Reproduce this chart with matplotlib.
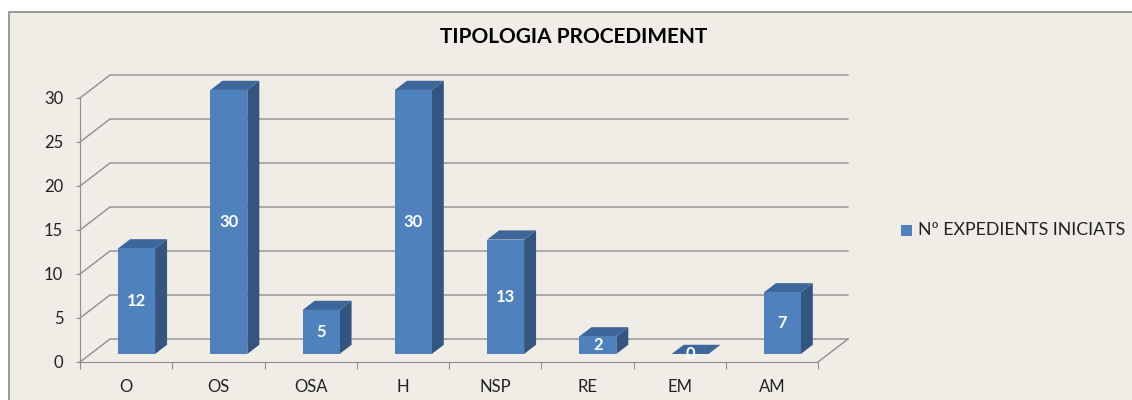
import matplotlib.pyplot as plt
from matplotlib.patches import Polygon, Rectangle

categories = ["O", "OS", "OSA", "H", "NSP", "RE", "EM", "AM"]
values = [12, 30, 5, 30, 13, 2, 0, 7]
series_name = "Nº EXPEDIENTS INICIATS"
title = "TIPOLOGIA PROCEDIMENT"
yticks = [0, 5, 10, 15, 20, 25, 30]

BG = "#f0ede6"
GRID = "#8e8e8e"
FRONT = "#4f81bd"
SIDE = "#34557f"
TOP = "#3d669a"
FONT = "Lato"

# depth offset of the back wall, in data units
DX, DY = 0.325, 2.61
D0, D1 = 0.35, 0.75
W = 0.2


def proj(x, y, d):
    return (x + d * DX, y + d * DY)


fig = plt.figure(figsize=(11.32, 4), dpi=100, facecolor="white")

# chart area with frame
fig.patches.append(Rectangle((8.5 / 1132, -0.05), 1.1, 1.05 - 11.5 / 400,
                             transform=fig.transFigure, facecolor=BG,
                             edgecolor="#8a8a8a", lw=1.2, figure=fig, zorder=-10))

ax = fig.add_axes([80 / 1132, 38 / 400, 738 / 1132, 264 / 400])
ax.set_facecolor("none")
n = len(categories)
ax.set_xlim(-0.5, n - 0.5)
ax.set_ylim(0, 30)

# back wall gridlines and floor
for v in yticks:
    x0, y0 = proj(-0.5, v, 0)
    x1, y1 = proj(-0.5, v, 1)
    x2, y2 = proj(n - 0.5, v, 1)
    ax.plot([x0, x1, x2], [y0, y1, y2], color=GRID, lw=1, clip_on=False, zorder=1)
xa, ya = proj(n - 0.5, 0, 0)
xb, yb = proj(n - 0.5, 0, 1)
ax.plot([xa, xb], [ya, yb], color=GRID, lw=1, clip_on=False, zorder=1)

# 3d-looking bars
for i, v in enumerate(values):
    l, r = i - W, i + W
    side = [proj(r, 0, D0), proj(r, 0, D1), proj(r, v, D1), proj(r, v, D0)]
    top = [proj(l, v, D0), proj(r, v, D0), proj(r, v, D1), proj(l, v, D1)]
    front = [proj(l, 0, D0), proj(r, 0, D0), proj(r, v, D0), proj(l, v, D0)]
    for pts, c in [(side, SIDE), (top, TOP), (front, FRONT)]:
        ax.add_patch(Polygon(pts, closed=True, facecolor=c, edgecolor="none",
                             clip_on=False, zorder=3))
    tx, ty = proj(i, v / 2, D0)
    ax.text(tx, ty, str(v), color="white", fontsize=12, fontweight="bold",
            family=FONT, ha="center", va="center", zorder=4, clip_on=False)

for s in ["top", "right"]:
    ax.spines[s].set_visible(False)
for s in ["left", "bottom"]:
    ax.spines[s].set_color(GRID)
    ax.spines[s].set_zorder(2)

ax.set_yticks(yticks)
ax.set_yticklabels([str(t) for t in yticks], family=FONT, fontsize=12, color="#222222")
ax.tick_params(axis="y", length=3, color=GRID, pad=9)
ax.set_xticks([i - 0.5 for i in range(n + 1)])
ax.set_xticklabels([])
ax.tick_params(axis="x", which="major", length=5, color=GRID, direction="out")
ax.set_xticks(range(n), minor=True)
ax.set_xticklabels(categories, minor=True, family=FONT, fontsize=12, color="#222222")
ax.tick_params(axis="x", which="minor", length=0, pad=12)

fig.text(574 / 1132, 1 - 37 / 400, title, ha="center", va="center",
         family=FONT, fontsize=15, fontweight="bold", color="black")

# legend
fig.patches.append(Rectangle((901 / 1132, 1 - 236 / 400), 11 / 1132, 11 / 400,
                             transform=fig.transFigure, facecolor=FRONT,
                             edgecolor="none", figure=fig))
fig.text(918 / 1132, 1 - 230 / 400, series_name, ha="left", va="center",
         family=FONT, fontsize=12.8, color="#222222")

fig.savefig("out.png", dpi=100, facecolor="white")
